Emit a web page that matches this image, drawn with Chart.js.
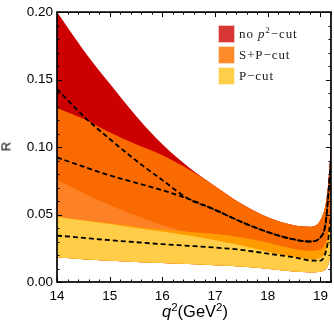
<!DOCTYPE html>
<html><head><meta charset="utf-8">
<script src="https://cdn.jsdelivr.net/npm/chart.js@4.4.1/dist/chart.umd.min.js"></script>
<style>
html,body{margin:0;padding:0;background:#fff;}
#wrap{position:relative;width:334px;height:332px;overflow:hidden;}
#c{position:absolute;left:0;top:0;}
.t{position:absolute;font-family:"Liberation Sans",Arial,sans-serif;color:#000;white-space:nowrap;}
.leg{position:absolute;left:218px;height:18px;width:112px;}
.sw{position:absolute;left:0;top:0;width:17px;height:18px;border:1px solid rgba(255,255,255,0.7);box-sizing:border-box;}
.lt{position:absolute;left:21px;top:0;white-space:nowrap;line-height:18px;font-family:"Liberation Serif","Times New Roman",serif;font-size:13px;letter-spacing:0.9px;color:#1a1a1a;}
sup{font-size:70%;vertical-align:0;position:relative;top:-0.5em;}
</style></head>
<body>
<div id="wrap">
<canvas id="c" width="334" height="332"></canvas>
<div class="t" style="left:-2px;top:139px;font-size:13px;transform:rotate(-90deg);transform-origin:50% 50%;width:16px;text-align:center;">R</div>
<div class="t" style="left:57px;width:276px;top:302px;font-size:16.5px;text-align:center;"><i>q</i><sup>2</sup>(GeV<sup>2</sup>)</div>
<div class="leg" style="top:25px;"><div class="sw" style="background:#d93636"></div><div class="lt">no <i>p</i><sup>2</sup>−cut</div></div>
<div class="leg" style="top:46px;"><div class="sw" style="background:#ff8a2a"></div><div class="lt">S+P−cut</div></div>
<div class="leg" style="top:67px;"><div class="sw" style="background:#ffcf4a"></div><div class="lt">P−cut</div></div>
</div>
<script>
// q^2 grid (GeV^2)
const q      = [14, 14.5, 15, 15.5, 16, 16.5, 17, 17.5, 18, 18.5, 18.8, 19.0, 19.1, 19.15, 19.2];
// visible band boundaries
const redHi  = [0.200, 0.172, 0.147, 0.123, 0.102, 0.0850, 0.071, 0.058, 0.048, 0.0420, 0.041, 0.046, 0.058, 0.074, 0.100];
const orgHi  = [0.129, 0.121, 0.111, 0.102, 0.094, 0.0835, 0.071, 0.058, 0.048, 0.0420, 0.041, 0.046, 0.058, 0.074, 0.100];
const lightHi= [0.0755, 0.066, 0.057, 0.049, 0.042, 0.037, 0.0355, 0.033, 0.029, 0.0245, 0.023, 0.024, 0.029, 0.036, 0.052];
const amberHi= [0.0484, 0.0458, 0.0435, 0.041, 0.039, 0.037, 0.0355, 0.033, 0.029, 0.0245, 0.023, 0.024, 0.029, 0.036, 0.052];
const yelHi  = [0.0484, 0.0455, 0.043, 0.040, 0.0375, 0.0345, 0.031, 0.027, 0.0225, 0.0185, 0.017, 0.018, 0.023, 0.030, 0.044];
const yelLo  = [0.0183, 0.0168, 0.0158, 0.0149, 0.0141, 0.0133, 0.0125, 0.0115, 0.0098, 0.0078, 0.0072, 0.0078, 0.0095, 0.013, 0.022];
// central values (dashed)
const cNoCut = [0.143, 0.123, 0.106, 0.090, 0.0755, 0.0615, 0.0535, 0.0445, 0.037, 0.0315, 0.030, 0.033, 0.044, 0.065, 0.090];
const cSP    = [0.0923, 0.0855, 0.079, 0.0735, 0.068, 0.0615, 0.0535, 0.0445, 0.037, 0.0315, 0.030, 0.033, 0.044, 0.065, 0.090];
const cP     = [0.0344, 0.0327, 0.031, 0.0295, 0.028, 0.0268, 0.0255, 0.0238, 0.021, 0.0183, 0.016, 0.0158, 0.022, 0.032, 0.050];
// ticks
const xTicks = [14, 15, 16, 17, 18, 19];
const yTicks = [0, 0.05, 0.10, 0.15, 0.20];
const xMinorStep = 0.2, yMinorStep = 0.01;

const pts = arr => arr.map((v, i) => ({x: q[i], y: v}));
const band = (arr, color, order) => ({data: pts(arr), fill: {target: 0}, backgroundColor: color,
  borderColor: 'rgba(0,0,0,0)', borderWidth: 0, pointRadius: 0, cubicInterpolationMode: 'monotone', order});
const dash = (arr, order) => ({data: pts(arr), fill: false, borderColor: '#000', borderWidth: 1.8,
  borderDash: [5, 3], pointRadius: 0, cubicInterpolationMode: 'monotone', order});

const frameTicks = {
  id: 'frameTicks',
  afterDatasetsDraw(chart) {
    const {ctx, chartArea: {left, right, top, bottom}, scales: {x, y}} = chart;
    ctx.save();
    ctx.strokeStyle = '#000';
    ctx.lineWidth = 1;
    ctx.beginPath();
    const nx = Math.round((x.max - x.min) / xMinorStep);
    for (let i = 0; i <= nx; i++) {
      const v = x.min + i * xMinorStep;
      const major = Math.abs(v - Math.round(v)) < 1e-6;
      const len = major ? 5 : 2.5;
      const px = Math.round(x.getPixelForValue(v)) + 0.5;
      ctx.moveTo(px, bottom); ctx.lineTo(px, bottom - len);
      ctx.moveTo(px, top); ctx.lineTo(px, top + len);
    }
    const ny = Math.round((y.max - y.min) / yMinorStep);
    for (let i = 0; i <= ny; i++) {
      const v = y.min + i * yMinorStep;
      const major = i % 5 === 0;
      const len = major ? 5 : 2.5;
      const py = Math.round(y.getPixelForValue(v)) + 0.5;
      ctx.moveTo(left, py); ctx.lineTo(left + len, py);
      ctx.moveTo(right, py); ctx.lineTo(right - len, py);
    }
    ctx.stroke();
    ctx.lineWidth = 1.7;
    ctx.strokeRect(left, top, right - left, bottom - top);
    ctx.restore();
  }
};

new Chart(document.getElementById('c'), {
  type: 'line',
  data: {
    datasets: [
      {data: pts(yelLo), fill: false, borderColor: 'rgba(0,0,0,0)', borderWidth: 0, pointRadius: 0, cubicInterpolationMode: 'monotone', order: 20},
      band(yelHi, '#ffcd47', 5),
      band(amberHi, '#ff9d00', 6),
      band(lightHi, '#fc8225', 7),
      band(orgHi, '#f96a00', 8),
      band(redHi, '#cc0000', 9),
      dash(cNoCut, 0),
      dash(cSP, 1),
      dash(cP, 2)
    ]
  },
  options: {
    responsive: false,
    animation: false,
    devicePixelRatio: 1,
    layout: {padding: {top: 9, right: 1.5, left: 0, bottom: 0}},
    plugins: {legend: {display: false}, tooltip: {enabled: false}},
    scales: {
      x: {
        type: 'linear', min: 14, max: 19.2,
        grid: {display: false, drawTicks: false}, border: {display: false},
        ticks: {color: '#000', font: {family: 'Liberation Sans', size: 13.5}, padding: 6, maxRotation: 0},
        afterBuildTicks: s => { s.ticks = xTicks.map(v => ({value: v})); },
        afterFit: s => { s.height = 50; }
      },
      y: {
        type: 'linear', min: 0, max: 0.2,
        grid: {display: false, drawTicks: false}, border: {display: false},
        ticks: {color: '#000', font: {family: 'Liberation Sans', size: 13.5}, padding: 4, callback: v => v.toFixed(2)},
        afterBuildTicks: s => { s.ticks = yTicks.map(v => ({value: v})); },
        afterFit: s => { s.width = 57; }
      }
    }
  },
  plugins: [frameTicks]
});
</script>
</body></html>
